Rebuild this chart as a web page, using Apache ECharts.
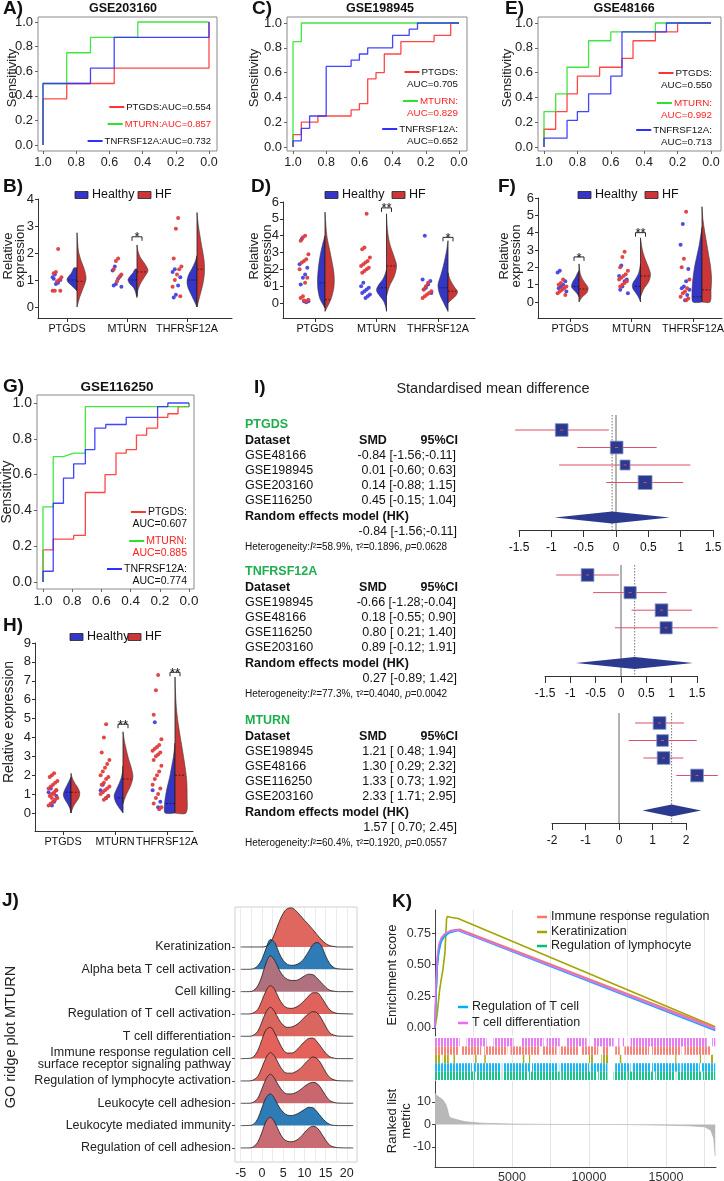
<!DOCTYPE html>
<html>
<head>
<meta charset="utf-8">
<title>MTURN / PTGDS / TNFRSF12A</title>
<style>
  html, body { margin: 0; padding: 0; background: #fff; }
  #main { width: 724px; height: 1181px; }
</style>
<script src="https://cdn.jsdelivr.net/npm/echarts@6.0.0/dist/echarts.min.js"></script>
</head>
<body>
<div id="main"></div>
<script>
// ================= data =================
// ROC curves, points are [specificity, sensitivity]
const rocA_ptgds = [[1,0],[1,0.375],[0.857,0.375],[0.857,0.5],[0.571,0.5],[0.571,0.625],[0,0.625],[0,1]];
const rocA_mturn = [[1,0],[1,0.5],[0.857,0.5],[0.857,0.75],[0.714,0.75],[0.714,0.875],[0.429,0.875],[0.429,1],[0,1]];
const rocA_tnf   = [[1,0],[1,0.5],[0.714,0.5],[0.714,0.625],[0.571,0.625],[0.571,0.875],[0,0.875],[0,1]];
const rocC_ptgds = [[1,0],[1,0.1],[0.95,0.1],[0.95,0.2],[0.85,0.2],[0.85,0.25],[0.65,0.25],[0.65,0.3],[0.6,0.3],[0.6,0.35],[0.55,0.35],[0.55,0.55],[0.5,0.55],[0.5,0.6],[0.45,0.6],[0.45,0.75],[0.35,0.75],[0.35,0.85],[0.15,0.85],[0.15,0.9],[0.05,0.9],[0.05,1],[0,1]];
const rocC_mturn = [[1,0],[1,0.85],[0.95,0.85],[0.95,1],[0,1]];
const rocC_tnf   = [[1,0],[1,0.05],[0.95,0.05],[0.95,0.15],[0.9,0.15],[0.9,0.25],[0.8,0.25],[0.8,0.65],[0.65,0.65],[0.65,0.7],[0.6,0.7],[0.6,0.75],[0.55,0.75],[0.55,0.8],[0.4,0.8],[0.4,0.9],[0.3,0.9],[0.3,0.95],[0.25,0.95],[0.25,1],[0,1]];
const rocE_ptgds = [[1,0],[1,0.143],[0.93,0.143],[0.93,0.286],[0.862,0.286],[0.862,0.429],[0.8,0.429],[0.8,0.571],[0.667,0.571],[0.667,0.643],[0.533,0.643],[0.533,0.714],[0.467,0.714],[0.467,0.857],[0.333,0.857],[0.333,0.929],[0.2,0.929],[0.2,1],[0,1]];
const rocE_mturn = [[1,0],[1,0.286],[0.93,0.286],[0.93,0.429],[0.862,0.429],[0.862,0.643],[0.733,0.643],[0.733,0.857],[0.6,0.857],[0.6,0.929],[0.333,0.929],[0.333,1],[0,1]];
const rocE_tnf   = [[1,0],[1,0.071],[0.862,0.071],[0.862,0.214],[0.8,0.214],[0.8,0.286],[0.733,0.286],[0.733,0.429],[0.6,0.429],[0.6,0.571],[0.533,0.571],[0.533,0.929],[0.267,0.929],[0.267,1],[0,1]];
const rocG_ptgds = [[1,0],[1,0.18],[0.93,0.18],[0.93,0.24],[0.79,0.24],[0.79,0.26],[0.71,0.26],[0.71,0.5],[0.575,0.5],[0.575,0.6],[0.5,0.6],[0.5,0.72],[0.43,0.72],[0.43,0.74],[0.36,0.74],[0.36,0.82],[0.29,0.82],[0.29,0.86],[0.215,0.86],[0.215,0.92],[0.145,0.92],[0.145,0.94],[0.075,0.94],[0.075,0.98],[0,0.98],[0,1]];
const rocG_mturn = [[1,0],[1,0.42],[0.93,0.42],[0.93,0.7],[0.86,0.7],[0.79,0.72],[0.71,0.72],[0.71,0.98],[0,0.98],[0,1]];
const rocG_tnf   = [[1,0],[1,0.06],[0.93,0.06],[0.93,0.44],[0.86,0.44],[0.86,0.58],[0.79,0.58],[0.79,0.66],[0.71,0.66],[0.71,0.74],[0.645,0.74],[0.645,0.86],[0.57,0.86],[0.57,0.88],[0.43,0.88],[0.43,0.92],[0.215,0.92],[0.215,0.98],[0.145,0.98],[0.145,1],[0,1]];
const rocGenes = ['PTGDS', 'MTURN', 'TNFRSF12A'];
const aucA = [0.554, 0.857, 0.732];
const aucC = [0.705, 0.829, 0.652];
const aucE = [0.550, 0.992, 0.713];
const aucG = [0.607, 0.885, 0.774];

// split violins: [gene index, low, high, median, relative half widths from low to high]
const vioGenes = ['PTGDS', 'MTURN', 'THFRSF12A'];
const vioB_healthy = [[0,0.6,1.45,1.0,[0,.3,.6,.9,1,.85,.6,.45,.3]],[1,0.35,1.4,1.0,[0,.1,.2,.4,.75,.9,.7,.4,.2]],[2,0,1.9,1.0,[0,.3,.6,.9,1,.85,.5,.2,0]]];
const vioB_hf      = [[0,0,2.75,0.95,[0,.25,.6,.9,.75,.4,.15,.06,0]],[1,0.4,2.3,1.3,[0,.1,.35,.75,1.1,.8,.35,.1,0]],[2,0,3.5,1.4,[0,.3,.6,.75,.7,.5,.3,.12,0]]];
const vioD_healthy = [[0,-0.3,4.0,1.2,[0,.5,.7,.75,.7,.6,.45,.25,0]],[1,-0.5,2.0,0.9,[0,.1,.3,.7,1,.8,.4,.15,0]],[2,-0.5,3.7,0.9,[0,.45,.85,1,.75,.5,.3,.12,0]]];
const vioD_hf      = [[0,-0.5,5.4,0.2,[0,.6,.9,.9,.7,.45,.2,.08,0]],[1,0.4,5.3,2.2,[0,.3,.8,1,.7,.35,.15,.05,0]],[2,0,1.8,0.7,[0,.4,.8,.95,.7,.45,.25,.1,0]]];
const vioF_healthy = [[0,0.3,1.8,0.9,[0,.2,.5,.75,.7,.55,.35,.2,0]],[1,0,2.2,0.9,[0,.2,.5,.8,.75,.45,.2,.08,0]],[2,0,4.3,0.3,[.9,1,.95,.85,.7,.5,.3,.15,0]]];
const vioF_hf      = [[0,0,2.2,0.75,[0,.3,.8,.9,.6,.3,.12,.05,0]],[1,0.3,3.7,1.5,[0,.3,.8,1,.8,.5,.25,.1,0]],[2,0,5.5,0.7,[.8,.9,.95,.85,.65,.45,.25,.08,0]]];
const vioH_healthy = [[0,0,1.9,1.1,[0,.1,.3,.55,.7,.6,.4,.2,0]],[1,0,2.5,0.8,[0,.4,.7,.8,.6,.35,.15,.05,0]],[2,0,3.7,0.5,[.9,.95,.85,.7,.5,.35,.2,.08,0]]];
const vioH_hf      = [[0,0,2.1,1.1,[0,.15,.4,.7,.8,.65,.35,.12,0]],[1,0.5,4.3,1.8,[0,.3,.7,.9,.75,.5,.3,.12,0]],[2,0,7.2,2.0,[1,1.1,1.05,.85,.6,.35,.15,.05,0]]];

// sample points next to the violins, one list per gene
const dotsB_healthy = [[1.2,1.1,1.0,0.9,0.85,1.05],[1.5,1.35,1.15,1.05,0.85,0.8,0.75],[1.4,1.3,1.1,0.8,0.45,0.35]];
const dotsB_hf      = [[2.15,1.3,1.25,1.1,1.0,0.95,0.6,0.6,0.6],[1.8,1.7,1.4,1.2,1.1,0.95],[3.3,2.9,1.8,1.5,1.4,1.2,1.0,0.75,0.4]];
const dotsD_healthy = [[3.8,2.3,2.1,1.7,1.5,1.1,0.1,0.05,0.1],[1.2,1.0,0.9,0.8,0.7,0.6,0.5,0.4,0.3],[4.0,1.4,1.3,1.1,0.9,0.8,0.6]];
const dotsD_hf      = [[4.0,3.9,3.7,2.9,2.6,2.5,2.4,2.0,1.5,1.2,0.4,0.3,0.2,0.1,0.15],[5.3,3.3,3.2,2.7,2.5,2.4,2.3,2.2,2.1,2.0,1.9,1.8],[1.2,1.0,0.8,0.7,0.6,0.5,0.4,0.3]];
const dotsF_healthy = [[1.8,1.7,1.2,1.0,0.9,0.8,0.6],[2.1,1.5,1.3,1.2,0.9,0.7,0.5],[4.5,3.3,1.9,1.2,0.9,0.8,0.7,0.4,0.1]];
const dotsF_hf      = [[1.3,1.1,1.0,0.9,0.8,0.7,0.6,0.5,0.4,0.8],[2.9,2.6,2.0,1.8,1.6,1.5,1.4,1.3,1.2,1.1,1.0,0.9],[5.2,2.5,2.0,1.3,0.8,0.6,0.5,0.3,0.2,0.1]];
const dotsH_healthy = [[1.3,1.1,0.9,0.6,0.4],[1.5,1.2,0.9,0.8],[4.8,1.2,0.6,0.3]];
const dotsH_hf      = [[2.1,2.0,1.9,1.7,1.6,1.5,1.4,1.3,1.2,1.1,1.0,0.9,0.8,0.7,0.6,0.5,0.4,1.2,1.0,0.8],[4.7,4.0,3.2,2.8,2.6,2.4,2.2,2.0,1.9,1.8,1.6,1.5,1.4,1.3,1.2,1.1,1.0,0.9,0.8,0.7],[7.3,6.5,5.2,3.9,3.6,3.5,3.4,3.3,3.2,3.1,3.0,2.8,2.5,2.2,2.0,1.8,1.5,1.3,1.0,0.8,0.5,0.3,0.2]];

// significance brackets: [gene index, level, mark]
const sigB = [[1, 2.6, '*']];
const sigD = [[1, 5.65, '**'], [2, 3.9, '*']];
const sigF = [[0, 2.6, '*'], [1, 4.0, '**']];
const sigH = [[1, 4.7, '**'], [2, 7.45, '**']];

// meta analysis (SMD, 95% CI, weight %)
const ptgdsSets = ['GSE48166', 'GSE198945', 'GSE203160', 'GSE116250'];
const ptgdsSmd = [-0.84, 0.01, 0.14, 0.45];
const ptgdsLo  = [-1.56, -0.60, -0.88, -0.15];
const ptgdsHi  = [-0.11, 0.63, 1.15, 1.04];
const ptgdsWt  = [26, 26, 16, 31];
const ptgdsPooled = [-0.06, -0.95, 0.83];
const tnfSets = ['GSE198945', 'GSE48166', 'GSE116250', 'GSE203160'];
const tnfSmd = [-0.66, 0.18, 0.80, 0.89];
const tnfLo  = [-1.28, -0.55, 0.21, -0.12];
const tnfHi  = [-0.04, 0.90, 1.40, 1.91];
const tnfWt  = [26, 24, 26, 24];
const tnfPooled = [0.27, -0.89, 1.42];
const mturnSets = ['GSE198945', 'GSE48166', 'GSE116250', 'GSE203160'];
const mturnSmd = [1.21, 1.30, 1.33, 2.33];
const mturnLo  = [0.48, 0.29, 0.73, 1.71];
const mturnHi  = [1.94, 2.32, 1.92, 2.95];
const mturnWt  = [26, 22, 26, 26];
const mturnPooled = [1.57, 0.70, 2.45];
const pooledText = ['-0.84 [-1.56;-0.11]', '0.27 [-0.89; 1.42]', '1.57 [ 0.70; 2.45]'];
const hetI2  = ['58.9%', '77.3%', '60.4%'];
const hetTau = ['0.1896', '0.4040', '0.1920'];
const hetP   = ['0.0628', '0.0042', '0.0557'];

// GO ridge plot (bottom -> top), heights sampled at ridgeX
const ridgeNames = ['Regulation of cell adhesion', 'Leukocyte mediated immunity', 'Leukocyte cell adhesion',
  'Regulation of lymphocyte activation', 'Immune response regulation cell\nsurface receptor signaling pathway',
  'T cell differentiation', 'Regulation of T cell activation', 'Cell killing', 'Alpha beta T cell activation', 'Keratinization'];
const ridgeX = [-5,-3,-2,-1,0,1,2,3,4,5,6,7,8,9,10,11,12,13,14,15,16,17,18,21.5];
const ridgeCellAdh  = [0,0,.05,.25,.7,1.2,1.37,1.15,.75,.42,.3,.28,.33,.47,.68,.88,.97,.9,.65,.35,.12,.04,.01,0];
const ridgeLeukImm  = [0,.01,.06,.3,.8,1.25,1.42,1.2,.85,.6,.47,.45,.5,.6,.72,.82,.8,.62,.38,.18,.05,.01,0,0];
const ridgeLeukAdh  = [0,0,.05,.22,.65,1.1,1.3,1.1,.78,.52,.42,.42,.48,.6,.75,.88,.94,.88,.65,.35,.12,.04,.01,0];
const ridgeLymph    = [0,0,.05,.2,.6,1.05,1.27,1.1,.75,.45,.35,.35,.42,.55,.75,.95,1.07,1.0,.75,.4,.15,.05,.01,0];
const ridgeImmune   = [0,.01,.08,.35,.85,1.3,1.4,1.15,.75,.4,.25,.25,.35,.55,.75,.9,.92,.75,.5,.25,.08,.02,0,0];
const ridgeTdiff    = [0,0,.05,.22,.65,1.1,1.3,1.1,.75,.5,.4,.42,.5,.65,.85,1.0,1.1,1.05,.8,.45,.15,.05,.01,0];
const ridgeTact     = [0,0,.05,.2,.6,1.05,1.27,1.1,.7,.4,.27,.25,.3,.42,.6,.8,.95,.95,.75,.45,.18,.06,.02,0];
const ridgeKilling  = [0,0,.05,.25,.7,1.3,1.6,1.4,1.0,.7,.55,.5,.5,.58,.7,.78,.76,.6,.4,.2,.06,.02,0,0];
const ridgeAlphaB   = [0,0,.03,.15,.45,.95,1.33,1.2,.75,.4,.22,.18,.2,.3,.5,.8,1.1,1.2,1.05,.6,.25,.07,.02,0];
const ridgeKerat    = [0,0,0,0,0,.03,.2,.6,1.1,1.5,1.72,1.75,1.62,1.42,1.2,1.0,.78,.55,.33,.16,.06,.02,0,0];
const ridgeTicks = [-5, 0, 5, 10, 15, 20];
const ridgeGridX = [-5,-2.5,0,2.5,5,7.5,10,12.5,15,17.5,20,22.5];

// GSEA running enrichment score, [rank, ES]
const esImmune = [[0,0],[50,0.2],[120,0.45],[200,0.58],[300,0.65],[450,0.7],[700,0.74],[1000,0.77],[1600,0.78],[18200,0.005]];
const esKerat  = [[0,0],[100,0],[150,0.12],[300,0.3],[400,0.38],[500,0.45],[650,0.6],[750,0.86],[800,0.88],[1000,0.875],[1500,0.865],[18200,0.01]];
const esLymph  = [[0,0],[60,0.25],[150,0.5],[250,0.62],[400,0.7],[600,0.73],[900,0.76],[1500,0.775],[18200,-0.01]];
const esRegT   = [[0,0],[70,0.28],[150,0.5],[250,0.6],[400,0.68],[600,0.72],[900,0.75],[1500,0.77],[18200,-0.02]];
const esTdiff  = [[0,0],[50,0.3],[130,0.55],[250,0.66],[400,0.71],[600,0.74],[900,0.76],[1500,0.775],[18200,-0.01]];
// gene-set hit stretches along the ranked list
const rugTdiff  = [[0,1600],[2050,3350],[3800,5100],[5650,7050],[7250,8100],[8550,9850],[10300,11600],[11900,11950],[12200,12250],[12700,17650],[18000,18200]];
const rugImmune = [[0,1500],[1700,3000],[3200,4700],[4900,6800],[7000,7900],[8100,9300],[9500,10600],[10900,11300],[11700,12000],[12300,13900],[14100,16000],[16200,17900]];
const rugKerat  = [[0,350],[500,900],[1200,1300],[2600,2700],[3200,3300],[5700,5800],[6100,6150],[10000,10300],[10800,11300],[12000,12100],[15600,15650],[17200,17250],[17900,18100]];
const rugRegT   = [[0,2400],[2500,4300],[4400,6200],[6300,8000],[8100,10000],[10100,11200],[11700,12700],[12800,14000],[14100,15900],[16000,17200],[17300,18200]];
const rugLymph  = [[0,2600],[2700,4300],[4400,6000],[6100,8100],[8200,10500],[10600,11200],[11600,12400],[12500,14200],[14300,15600],[15700,17300],[17400,18200]];
const rankedMetric = [[0,14],[100,13],[300,12],[500,11],[700,9],[800,7],[900,4],[1000,3],[1500,2],[2000,1.2],[3000,0.6],[5000,0.2],[8000,0],[12000,0],[15000,-0.3],[16500,-0.6],[17500,-1],[17900,-2.5],[18100,-6],[18200,-14]];
const gseaTicks = [5000, 10000, 15000];
const gseaGridX = [0, 2500, 5000, 7500, 10000, 12500, 15000, 17500];

// ================= helpers =================
const FONT = '"Liberation Sans", Arial, sans-serif';
const ROC_COL = ['#ff3333', '#2de22d', '#3030ff'];
const VIO_BLUE = '#3535c6', VIO_RED = '#cc3636';
const DOT_BLUE = '#4343e0', DOT_RED = '#e03c3c';
const grid = [], xAxis = [], yAxis = [], series = [], graphic = [];

const measureCtx = document.createElement('canvas').getContext('2d');
function textWidth(str, size, bold) {
  measureCtx.font = (bold ? 'bold ' : '') + size + 'px ' + FONT;
  return measureCtx.measureText(str).width;
}

const AXIS_BASE = {
  type: 'value',
  axisLine: { show: false, onZero: false },
  axisTick: { show: false },
  axisLabel: { show: false, fontFamily: FONT, color: '#111', hideOverlap: false },
  splitLine: { show: false }
};
function axisCfg(o) {
  const r = Object.assign({}, AXIS_BASE);
  for (const k in o) {
    const v = o[k];
    r[k] = (v && typeof v === 'object' && !Array.isArray(v) && AXIS_BASE[k]) ? Object.assign({}, AXIS_BASE[k], v) : v;
  }
  return r;
}
function addGrid(left, top, width, height, xa, ya, extra) {
  const i = grid.length;
  grid.push(Object.assign({ left, top, width, height, outerBoundsMode: 'none' }, extra || {}));
  xAxis.push(Object.assign(axisCfg(xa), { gridIndex: i }));
  yAxis.push(Object.assign(axisCfg(ya), { gridIndex: i }));
  return i;
}
function text(x, y, str, o) {
  o = o || {};
  graphic.push({
    type: 'text', x, y, rotation: o.rot || 0, z: 100, silent: true,
    style: {
      text: str, fill: o.color || '#111', fontFamily: FONT, fontSize: o.size || 12,
      fontWeight: o.bold ? 'bold' : 'normal', align: o.align || 'left', verticalAlign: 'middle',
      lineHeight: o.lh, rich: o.rich
    }
  });
}
function hline(x1, x2, y, color, w) {
  graphic.push({ type: 'line', silent: true, z: 100, shape: { x1, y1: y, x2, y2: y }, style: { stroke: color, lineWidth: w || 2 } });
}
function rect(x, y, w, h, fill) {
  graphic.push({ type: 'rect', silent: true, z: 100, shape: { x, y, width: w, height: h }, style: { fill, stroke: '#222', lineWidth: 0.8 } });
}
function stripes(color) {
  const c = document.createElement('canvas');
  c.width = 3; c.height = 8;
  const g = c.getContext('2d');
  g.fillStyle = color; g.fillRect(0, 0, 2, 8);
  return { image: c, repeat: 'repeat' };
}

// ---------- ROC ----------
function rocPanel(p) {
  const sx = p.x0 - p.x1, sy = p.y0 - p.y1;
  const ticks = [0, 0.2, 0.4, 0.6, 0.8, 1];
  const fs = p.font || 12.5;
  const gi = addGrid(p.l, p.t, p.r - p.l, p.b - p.t,
    { inverse: true, min: -(p.r - p.x0) / sx, max: 1 + (p.x1 - p.l) / sx,
      axisTick: { show: true, length: 3, customValues: ticks, lineStyle: { color: '#666' } },
      axisLabel: { show: true, customValues: ticks, formatter: v => v.toFixed(1), fontSize: fs, margin: 5, color: '#222' } },
    { min: -(p.b - p.y0) / sy, max: 1 + (p.y1 - p.t) / sy,
      axisTick: { show: true, length: 3, customValues: ticks, lineStyle: { color: '#666' } },
      axisLabel: { show: true, customValues: ticks, formatter: v => v.toFixed(1), fontSize: fs + 0.5, margin: 5, color: '#222' } },
    { show: true, borderColor: '#8a8a8a', borderWidth: 1 });
  p.curves.forEach((c, k) => series.push({
    type: 'line', xAxisIndex: gi, yAxisIndex: gi, data: c, showSymbol: false, silent: true,
    lineStyle: { color: ROC_COL[k], width: 1.3, opacity: 0.9 }, z: 2 + k
  }));
}
// legend text is right aligned at tx; the colour key sits just left of the first line
function rocLegend(tx, ys, auc, twoLine, size) {
  rocGenes.forEach((g, k) => {
    const col = k === 1 ? '#ff2222' : '#111';
    const a = 'AUC=' + auc[k].toFixed(3);
    const first = twoLine ? g + ':' : g + ':' + a;
    const start = tx - textWidth(first, size);
    hline(start - 17, start - 2, ys[k], ROC_COL[k], 2);
    text(tx, ys[k], first, { size, color: col, align: 'right' });
    if (twoLine) text(tx, ys[k] + 12, a, { size, color: col, align: 'right' });
  });
}

// ---------- split violins ----------
function violinPanel(p) {
  const unit = (p.y0 - p.top) / p.yMax;
  const ymin = -(p.bottom - p.y0) / unit;
  const yt = [];
  for (let v = 0; v <= p.yMax; v++) yt.push(v);
  const gi = addGrid(p.l, p.top, p.r - p.l, p.bottom - p.top,
    { min: 1 - (p.cat0 - p.l) / p.step, max: 1 + (p.r - p.cat0) / p.step,
      axisLine: { show: true, lineStyle: { color: '#333', width: 1 } },
      axisTick: { show: true, length: 4, customValues: [1, 2, 3], lineStyle: { color: '#333' } },
      axisLabel: { show: true, customValues: [1, 2, 3], formatter: v => vioGenes[Math.round(v) - 1], fontSize: 10.8, margin: 6 } },
    { min: ymin, max: p.yMax,
      axisLine: { show: true, lineStyle: { color: '#333', width: 1 } },
      axisTick: { show: true, length: 3, customValues: yt, lineStyle: { color: '#333' } },
      axisLabel: { show: true, customValues: yt, fontSize: 13, margin: 4, color: '#222' } });
  const vx = g => g + 1 + p.vioOff / p.step;

  function half(shapes, side, color) {
    series.push({
      type: 'custom', xAxisIndex: gi, yAxisIndex: gi, silent: true, z: 2,
      data: shapes.map(s => [vx(s[0]), s[1]]),
      renderItem: function (params, api) {
        const s = shapes[params.dataIndex];
        const lo = s[1], hi = s[2], med = s[3], w = s[4], n = w.length;
        const cx = api.coord([vx(s[0]), 0])[0];
        const pts = [[cx, api.coord([0, lo])[1]]];
        for (let k = 0; k < n; k++) {
          const v = lo + (hi - lo) * k / (n - 1);
          pts.push([cx + side * w[k] * p.wPx, api.coord([0, v])[1]]);
        }
        pts.push([cx, api.coord([0, hi])[1]]);
        const t = (med - lo) / (hi - lo) * (n - 1);
        const k0 = Math.max(0, Math.min(n - 2, Math.floor(t)));
        const wm = w[k0] + (w[k0 + 1] - w[k0]) * (t - k0);
        const ym = api.coord([0, med])[1];
        return { type: 'group', children: [
          { type: 'polyline', shape: { points: pts, smooth: 0.3 }, style: { fill: color, stroke: '#3a3a3a', lineWidth: 0.6 } },
          { type: 'line', shape: { x1: cx, y1: pts[0][1], x2: cx, y2: pts[pts.length - 1][1] }, style: { stroke: '#222', lineWidth: 0.8 } },
          { type: 'line', shape: { x1: cx, y1: ym, x2: cx + side * wm * p.wPx * 0.9, y2: ym }, style: { stroke: '#111', lineWidth: 0.7, lineDash: [2, 1.5] } }
        ] };
      }
    });
  }
  half(p.healthy, -1, VIO_BLUE);
  half(p.hf, 1, VIO_RED);

  function dots(vals, color, seed) {
    const data = [];
    vals.forEach((arr, g) => arr.forEach((v, k) => {
      const jit = (((k * 7 + seed) % 9) - 4) * 1.1;
      data.push([g + 1 + (p.dotOff + jit) / p.step, v]);
    }));
    series.push({ type: 'scatter', xAxisIndex: gi, yAxisIndex: gi, data, symbolSize: 4, silent: true,
      itemStyle: { color, opacity: 0.95 }, z: 3 });
  }
  dots(p.dotsH, DOT_BLUE, 2);
  dots(p.dotsF, DOT_RED, 5);

  series.push({
    type: 'custom', xAxisIndex: gi, yAxisIndex: gi, silent: true, z: 4,
    data: p.sig.map(s => [vx(s[0]), s[1]]),
    renderItem: function (params, api) {
      const s = p.sig[params.dataIndex];
      const c = api.coord([vx(s[0]), s[1]]);
      return { type: 'group', children: [
        { type: 'polyline', shape: { points: [[c[0] - 5, c[1] + 4], [c[0] - 5, c[1]], [c[0] + 5, c[1]], [c[0] + 5, c[1] + 4]] },
          style: { stroke: '#111', fill: null, lineWidth: 0.9 } },
        { type: 'text', x: c[0], y: c[1] + 1, style: { text: s[2], fontSize: 13, fontFamily: FONT, fill: '#111', align: 'center', verticalAlign: 'middle' } }
      ] };
    }
  });

  // legend
  rect(p.leg[0], p.legY - 3.5, 13, 7, VIO_BLUE);
  text(p.leg[0] + 17, p.legY, 'Healthy', { size: 12.5 });
  rect(p.leg[1], p.legY - 3.5, 13, 7, VIO_RED);
  text(p.leg[1] + 17, p.legY, 'HF', { size: 12.5 });
}

// ---------- forest ----------
function forestPanel(f) {
  const ymin = -(f.row0 - f.top) / f.step, ymax = (f.axis - f.row0) / f.step;
  const gi = addGrid(f.l, f.top, f.w, f.axis - f.top,
    { min: f.min, max: f.max,
      axisLine: { show: true, lineStyle: { color: '#333', width: 1 } },
      axisTick: { show: true, length: 7, customValues: f.ticks, lineStyle: { color: '#333' } },
      axisLabel: { show: true, customValues: f.ticks, formatter: v => String(v), fontSize: 12, margin: 12 } },
    { min: ymin, max: ymax, inverse: true });
  series.push({ type: 'line', xAxisIndex: gi, yAxisIndex: gi, data: [[0, ymin], [0, ymax]], showSymbol: false, silent: true,
    lineStyle: { color: '#666', width: 1 }, z: 1 });
  series.push({ type: 'line', xAxisIndex: gi, yAxisIndex: gi, data: [[f.pooled[0], ymin], [f.pooled[0], ymax]], showSymbol: false, silent: true,
    lineStyle: { color: '#777', width: 1, type: [1.5, 1.5] }, z: 1 });
  series.push({
    type: 'custom', xAxisIndex: gi, yAxisIndex: gi, silent: true, z: 3,
    data: f.smd.map((v, k) => [v, k, f.lo[k], f.hi[k], f.wt[k]]),
    renderItem: function (params, api) {
      const k = params.dataIndex;
      const c = api.coord([api.value(0), k]);
      const a = api.coord([api.value(2), k]), b = api.coord([api.value(3), k]);
      const s = Math.sqrt(api.value(4)) * 2.5;
      return { type: 'group', children: [
        { type: 'line', shape: { x1: a[0], y1: a[1], x2: b[0], y2: b[1] }, style: { stroke: '#d9506b', lineWidth: 1 } },
        { type: 'rect', shape: { x: c[0] - s / 2, y: c[1] - s / 2, width: s, height: s }, style: { fill: '#2b3a8e', stroke: '#8c96c8', lineWidth: 0.8 } },
        { type: 'line', shape: { x1: c[0] - 1.5, y1: c[1], x2: c[0] + 1.5, y2: c[1] }, style: { stroke: '#d9506b', lineWidth: 1 } }
      ] };
    }
  });
  series.push({
    type: 'custom', xAxisIndex: gi, yAxisIndex: gi, silent: true, z: 3,
    data: [f.pooled],
    renderItem: function (params, api) {
      const row = f.smd.length + 1;
      const L = api.coord([api.value(1), row]), R = api.coord([api.value(2), row]), C = api.coord([api.value(0), row]);
      return { type: 'polygon', shape: { points: [L, [C[0], C[1] - 6], R, [C[0], C[1] + 6]] }, style: { fill: '#2b3a8e' } };
    }
  });
}
function fmtCI(v) { return (v < 0 ? '' : ' ') + v.toFixed(2); }
function forestText(y0, gene, sets, smd, lo, hi, k) {
  text(245, y0, gene, { bold: true, color: '#1eae4e', size: 12.5 });
  text(245, y0 + 16, 'Dataset', { bold: true, size: 12.5 });
  text(373, y0 + 16, 'SMD', { bold: true, size: 12.5, align: 'center' });
  text(458, y0 + 16, '95%CI', { bold: true, size: 12.5, align: 'right' });
  sets.forEach((d, i) => {
    const y = y0 + 31 + 15 * i;
    text(245, y, d, { size: 12.5 });
    text(456, y, smd[i].toFixed(2) + ' [' + fmtCI(lo[i]) + ';' + fmtCI(hi[i]) + ']', { size: 12.5, align: 'right' });
  });
  text(245, y0 + 92, 'Random effects model (HK)', { bold: true, size: 12.5 });
  text(457, y0 + 107, pooledText[k], { size: 12.5, align: 'right' });
  text(245, y0 + 122, 'Heterogeneity:{i|I}\u00b2=' + hetI2[k] + ', \u03c4\u00b2=' + hetTau[k] + ', {i|p}=' + hetP[k],
    { size: 10, rich: { i: { fontStyle: 'italic', fontSize: 10, fontFamily: FONT, fill: '#111' } } });
}

// ================= build =================
// A, C, E, G: ROC
rocPanel({ l: 38, r: 217, t: 17, b: 151, x1: 43, x0: 209, y1: 22, y0: 145, curves: [rocA_ptgds, rocA_mturn, rocA_tnf] });
rocPanel({ l: 287, r: 467, t: 17, b: 151, x1: 293, x0: 459, y1: 23, y0: 147, curves: [rocC_ptgds, rocC_mturn, rocC_tnf] });
rocPanel({ l: 538, r: 721, t: 17, b: 151, x1: 544, x0: 711, y1: 23, y0: 147, curves: [rocE_ptgds, rocE_mturn, rocE_tnf] });
rocPanel({ l: 37, r: 194, t: 395, b: 589, x1: 43, x0: 189, y1: 403, y0: 582, font: 13.5, curves: [rocG_ptgds, rocG_mturn, rocG_tnf] });
rocLegend(211, [107, 124, 141], aucA, false, 9.5);
rocLegend(458, [72, 101, 129], aucC, true, 9.8);
rocLegend(712, [73, 103, 130], aucE, true, 9.8);
rocLegend(187, [512, 541, 569], aucG, true, 10.5);

// B, D, F, H: violins
violinPanel({ l: 38, r: 232, top: 199, y0: 307, yMax: 4, bottom: 318, cat0: 67, step: 60, dotOff: -10, vioOff: 10, wPx: 10,
  healthy: vioB_healthy, hf: vioB_hf, dotsH: dotsB_healthy, dotsF: dotsB_hf, sig: sigB, leg: [75, 138], legY: 195 });
violinPanel({ l: 283, r: 475, top: 202, y0: 303, yMax: 6, bottom: 318, cat0: 315, step: 61.5, dotOff: -11, vioOff: 10, wPx: 10,
  healthy: vioD_healthy, hf: vioD_hf, dotsH: dotsD_healthy, dotsF: dotsD_hf, sig: sigD, leg: [325, 392], legY: 195 });
violinPanel({ l: 538, r: 722, top: 198, y0: 302, yMax: 6, bottom: 318, cat0: 570, step: 61.5, dotOff: -8, vioOff: 9, wPx: 10,
  healthy: vioF_healthy, hf: vioF_hf, dotsH: dotsF_healthy, dotsF: dotsF_hf, sig: sigF, leg: [578, 645], legY: 195 });
violinPanel({ l: 35, r: 193, top: 643, y0: 813, yMax: 9, bottom: 831, cat0: 63, step: 52, dotOff: -10, vioOff: 8, wPx: 11,
  healthy: vioH_healthy, hf: vioH_hf, dotsH: dotsH_healthy, dotsF: dotsH_hf, sig: sigH, leg: [70, 128], legY: 637 });

// I: forest plots
forestPanel({ l: 519, w: 194, min: -1.5, max: 1.5, ticks: [-1.5, -1, -0.5, 0, 0.5, 1, 1.5], top: 415, row0: 430, step: 17.5, axis: 530,
  smd: ptgdsSmd, lo: ptgdsLo, hi: ptgdsHi, wt: ptgdsWt, pooled: ptgdsPooled });
forestPanel({ l: 545, w: 152, min: -1.5, max: 1.5, ticks: [-1.5, -1, -0.5, 0, 0.5, 1, 1.5], top: 565, row0: 575, step: 17.6, axis: 676,
  smd: tnfSmd, lo: tnfLo, hi: tnfHi, wt: tnfWt, pooled: tnfPooled });
forestPanel({ l: 552, w: 134, min: -2, max: 2, ticks: [-2, -1, 0, 1, 2], top: 713, row0: 723, step: 17.5, axis: 823,
  smd: mturnSmd, lo: mturnLo, hi: mturnHi, wt: mturnWt, pooled: mturnPooled });
forestText(425, 'PTGDS', ptgdsSets, ptgdsSmd, ptgdsLo, ptgdsHi, 0);
forestText(572, 'TNFRSF12A', tnfSets, tnfSmd, tnfLo, tnfHi, 1);
forestText(721, 'MTURN', mturnSets, mturnSmd, mturnLo, mturnHi, 2);

// J: ridges
const ridgeSeries = [ridgeCellAdh, ridgeLeukImm, ridgeLeukAdh, ridgeLymph, ridgeImmune, ridgeTdiff, ridgeTact, ridgeKilling, ridgeAlphaB, ridgeKerat];
const ridgeColors = ['#c96b72', '#2f7bb6', '#c9676e', '#de6660', '#e4625b', '#d9665f', '#e0625c', '#b0717f', '#2f7bb6', '#e0675f'];
const gj = addGrid(235, 907, 122, 255,
  { min: -6.35, max: 22.4,
    axisTick: { show: false, customValues: ridgeGridX },
    splitLine: { show: true, lineStyle: { color: '#e6e6e6', width: 0.8 } },
    axisLabel: { show: true, customValues: ridgeTicks, fontSize: 12.5, margin: 5, color: '#222' } },
  { min: -0.63, max: 10.79,
    axisTick: { show: true, length: 3, customValues: [0,1,2,3,4,5,6,7,8,9], lineStyle: { color: '#555' } },
    axisLabel: { show: true, customValues: [0,1,2,3,4,5,6,7,8,9], formatter: v => ridgeNames[Math.round(v)],
      fontSize: 12.5, margin: 4, color: '#222', lineHeight: 12.5, align: 'right' } },
  { show: true, borderColor: '#d0d0d0', borderWidth: 1 });
for (let i = ridgeSeries.length - 1; i >= 0; i--) {
  const h = ridgeSeries[i];
  series.push({
    type: 'line', xAxisIndex: gj, yAxisIndex: gj, silent: true, showSymbol: false, smooth: 0.35,
    data: ridgeX.map((x, k) => [x, i + h[k]]),
    lineStyle: { color: '#1c1c1c', width: 0.8 },
    areaStyle: { origin: i, color: ridgeColors[i], opacity: 1 },
    z: 2
  });
}

// K: GSEA
const gTop = addGrid(435, 910, 281, 126,
  { min: 0, max: 18250, axisTick: { show: false, customValues: gseaGridX }, splitLine: { show: true, lineStyle: { color: '#e4e4e4' } } },
  { min: -0.063, max: 0.932,
    axisLine: { show: true, lineStyle: { color: '#444' } },
    axisTick: { show: true, length: 3, customValues: [0, 0.25, 0.5, 0.75], lineStyle: { color: '#444' } },
    axisLabel: { show: true, customValues: [0, 0.25, 0.5, 0.75], formatter: v => v.toFixed(2), fontSize: 12.5, margin: 4, color: '#333' } });
const esSeries = [esKerat, esImmune, esLymph, esRegT, esTdiff];
const esColors = ['#a3a500', '#f8766d', '#00bf7d', '#00b0f6', '#e76bf3'];
esSeries.forEach((d, k) => series.push({
  type: 'line', xAxisIndex: gTop, yAxisIndex: gTop, data: d, showSymbol: false, silent: true,
  lineStyle: { color: esColors[k], width: 1.6 }, z: 2 + k
}));
const gRug = addGrid(435, 1038, 281, 42,
  { min: 0, max: 18250, axisTick: { show: false, customValues: gseaGridX }, splitLine: { show: true, lineStyle: { color: '#e4e4e4' } } },
  { min: 0, max: 5, inverse: true });
const rugRows = [rugTdiff, rugImmune, rugKerat, rugRegT, rugLymph];
const rugColors = ['#e76bf3', '#f8766d', '#a3a500', '#00b0f6', '#00bf7d'];
rugRows.forEach((row, r) => {
  const pat = stripes(rugColors[r]);
  series.push({
    type: 'custom', xAxisIndex: gRug, yAxisIndex: gRug, silent: true, z: 2,
    data: row.map(s => [s[0], r, s[1]]),
    renderItem: function (params, api) {
      const a = api.coord([api.value(0), r]), b = api.coord([api.value(2), r + 1]);
      return { type: 'rect', shape: { x: a[0], y: a[1], width: Math.max(1.2, b[0] - a[0]), height: b[1] - a[1] },
        style: { fill: b[0] - a[0] > 3 ? pat : rugColors[r], opacity: 0.9 } };
    }
  });
});
const gRank = addGrid(435, 1081, 281, 86,
  { min: 0, max: 18250,
    axisLine: { show: true, lineStyle: { color: '#444' } },
    axisTick: { show: false, customValues: gseaGridX },
    splitLine: { show: true, lineStyle: { color: '#e4e4e4' } },
    axisLabel: { show: true, customValues: gseaTicks, formatter: v => String(v), fontSize: 12.5, margin: 4, color: '#333' } },
  { min: -18.9, max: 19.33,
    axisLine: { show: true, lineStyle: { color: '#444' } },
    axisTick: { show: true, length: 3, customValues: [-10, 0, 10], lineStyle: { color: '#444' } },
    axisLabel: { show: true, customValues: [-10, 0, 10], formatter: v => String(v), fontSize: 12.5, margin: 4, color: '#333' } });
series.push({ type: 'line', xAxisIndex: gRank, yAxisIndex: gRank, data: rankedMetric, showSymbol: false, silent: true,
  lineStyle: { color: '#a8a8a8', width: 0.6 }, areaStyle: { color: '#b8b8b8', opacity: 1 }, z: 2 });

// GSEA legends
const kLegTop = [['Immune response regulation', '#f8766d'], ['Keratinization', '#a3a500'], ['Regulation of lymphocyte', '#00bf7d']];
const kLegBot = [['Regulation of T cell', '#00b0f6'], ['T cell differentiation', '#e76bf3']];
[917, 932, 946].forEach((y, k) => { hline(537, 547, y, kLegTop[k][1], 2.5); text(551, y, kLegTop[k][0], { size: 12.5, color: '#222' }); });
[1007, 1023].forEach((y, k) => { hline(458, 468, y, kLegBot[k][1], 2.5); text(472, y, kLegBot[k][0], { size: 12.5, color: '#222' }); });

// ================= titles and labels =================
const R90 = Math.PI / 2;
[['A)', 3, 9], ['C)', 252, 9], ['E)', 505, 9], ['B)', 3, 187], ['D)', 251, 187], ['F)', 498, 187],
 ['G)', 3, 387], ['H)', 3, 626], ['I)', 254, 388], ['J)', 2, 901], ['K)', 392, 902]].forEach(l => text(l[1], l[2], l[0], { size: 19, bold: true }));
text(123, 9, 'GSE203160', { bold: true, size: 12.5, align: 'center' });
text(380, 9, 'GSE198945', { bold: true, size: 12.5, align: 'center' });
text(624, 9, 'GSE48166', { bold: true, size: 12.5, align: 'center' });
text(117, 387, 'GSE116250', { bold: true, size: 13.5, align: 'center' });
text(12, 78, 'Sensitivity', { size: 13, rot: R90, align: 'center', color: '#222' });
text(254, 78, 'Sensitivity', { size: 13, rot: R90, align: 'center', color: '#222' });
text(507, 78, 'Sensitivity', { size: 13, rot: R90, align: 'center', color: '#222' });
text(7, 492, 'Sensitivity', { size: 14, rot: R90, align: 'center', color: '#222' });
[[8, 20], [254, 267], [504, 516]].forEach(c => {
  text(c[0], 256, 'Relative', { size: 13, rot: R90, align: 'center', color: '#222' });
  text(c[1], 256, 'expression', { size: 13, rot: R90, align: 'center', color: '#222' });
});
text(9, 722, 'Relative expression', { size: 14, rot: R90, align: 'center', color: '#222' });
text(493, 389, 'Standardised mean difference', { size: 14.5, align: 'center', color: '#222' });
text(11, 1037, 'GO ridge plot MTURN', { size: 14.5, rot: R90, align: 'center', color: '#222' });
text(392, 975, 'Enrichment score', { size: 13, rot: R90, align: 'center', color: '#222' });
text(392, 1121, 'Ranked list', { size: 13, rot: R90, align: 'center', color: '#222' });
text(406, 1121, 'metric', { size: 13, rot: R90, align: 'center', color: '#222' });

const chart = echarts.init(document.getElementById('main'), null, { renderer: 'canvas' });
chart.setOption({
  animation: false,
  backgroundColor: '#fff',
  textStyle: { fontFamily: FONT },
  grid, xAxis, yAxis, series,
  graphic: { elements: graphic }
});
</script>
</body>
</html>
